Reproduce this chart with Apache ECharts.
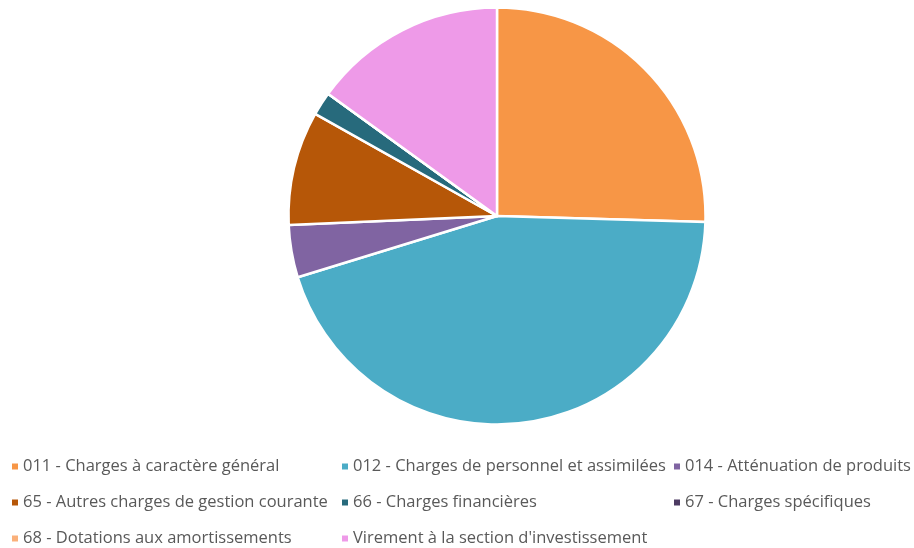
<!DOCTYPE html>
<html><head><meta charset="utf-8">
<script src="https://cdn.jsdelivr.net/npm/echarts@6/dist/echarts.min.js"></script>
<style>html,body{margin:0;padding:0;background:#fff}#c{width:914px;height:548px}</style>
</head><body><div id="c"></div>
<script>
const categories = ["011 - Charges à caractère général","012 - Charges de personnel et assimilées","014 - Atténuation de produits","65 - Autres charges de gestion courante","66 - Charges financières","67 - Charges spécifiques","68 - Dotations aux amortissements","Virement à la section d'investissement"];
const values = [25.45, 44.8, 4.06, 8.83, 1.83, 0, 0, 15.03];
const colors = ["#F79646","#4BACC6","#8064A2","#B65708","#276A7C","#4D3B62","#FAB07A","#EE9AE8"];
const legendCols = [[0,3,6],[1,4,7],[2,5]];
const colX = [10, 340, 672];

const chart = echarts.init(document.getElementById('c'));
const legendBase = {orient:'vertical', top:458, padding:0, itemWidth:8, itemHeight:8, itemGap:19, icon:'rect',
  textStyle:{color:'#595959', fontSize:16.5, fontFamily:'Open Sans', padding:[0,0,0,-1]}, selectedMode:false};
chart.setOption({
  animation:false,
  color: colors,
  legend: legendCols.map((c,i)=>Object.assign({}, legendBase, {left: colX[i], data: c.map(k=>categories[k])})),
  series:[{type:'pie', center:[497,216], radius:208.5, startAngle:90, clockwise:true,
    label:{show:false}, labelLine:{show:false}, emphasis:{disabled:true},
    itemStyle:{borderColor:'#fff', borderWidth:2.5},
    data: categories.map((n,i)=>({name:n, value:values[i]}))}]
});
</script></body></html>
